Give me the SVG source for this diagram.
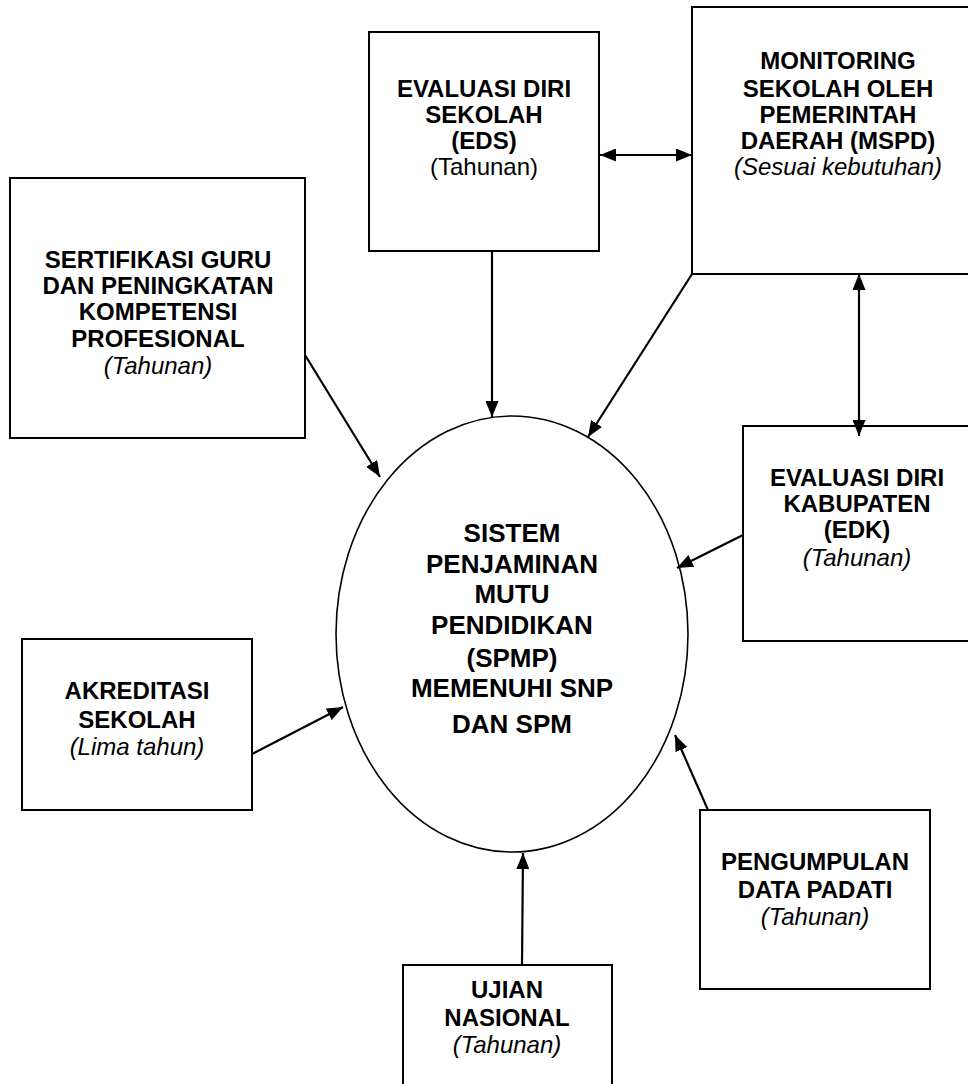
<svg xmlns="http://www.w3.org/2000/svg" width="968" height="1084" viewBox="0 0 968 1084">
<style>
.box{fill:#fff;stroke:#000;stroke-width:2}
.ell{fill:#fff;stroke:#000;stroke-width:1.6}
.t{font-family:"Liberation Sans",Arial,sans-serif;font-size:24px;font-weight:bold;fill:#000;text-anchor:middle}
.tc{font-family:"Liberation Sans",Arial,sans-serif;font-size:26px;font-weight:bold;fill:#000;text-anchor:middle}
.i{font-family:"Liberation Sans",Arial,sans-serif;font-size:24px;font-style:italic;fill:#000;text-anchor:middle}
.r{font-family:"Liberation Sans",Arial,sans-serif;font-size:24px;fill:#000;text-anchor:middle}
.c{fill:none;stroke:#000;stroke-width:2.2;marker-end:url(#ah)}
.d{fill:none;stroke:#000;stroke-width:2.2;marker-end:url(#ah);marker-start:url(#ah)}
</style>
<defs>
<marker id="ah" viewBox="0 0 16 13" refX="16" refY="6.5" markerWidth="16" markerHeight="13" markerUnits="userSpaceOnUse" orient="auto-start-reverse">
<path d="M0,0 L16,6.5 L0,13 z" fill="#000"/>
</marker>
</defs>
<rect width="968" height="1084" fill="#fff"/>
<g id="eds">
<rect class="box" x="369" y="32" width="230" height="219"/>
<text class="t" x="484" y="97">EVALUASI DIRI</text>
<text class="t" x="484" y="123">SEKOLAH</text>
<text class="t" x="484" y="149">(EDS)</text>
<text class="r" x="484" y="175">(Tahunan)</text>
</g>
<g id="mspd">
<rect class="box" x="692" y="7" width="292" height="267"/>
<text class="t" x="838" y="69">MONITORING</text>
<text class="t" x="838" y="97">SEKOLAH OLEH</text>
<text class="t" x="838" y="123">PEMERINTAH</text>
<text class="t" x="838" y="149">DAERAH (MSPD)</text>
<text class="i" x="838" y="175">(Sesuai kebutuhan)</text>
</g>
<g id="sertifikasi">
<rect class="box" x="10" y="178" width="295" height="260"/>
<text class="t" x="158" y="268">SERTIFIKASI GURU</text>
<text class="t" x="158" y="294">DAN PENINGKATAN</text>
<text class="t" x="158" y="320">KOMPETENSI</text>
<text class="t" x="158" y="347">PROFESIONAL</text>
<text class="i" x="158" y="374">(Tahunan)</text>
</g>
<g id="edk">
<rect class="box" x="743" y="426" width="240" height="215"/>
<text class="t" x="857" y="486">EVALUASI DIRI</text>
<text class="t" x="857" y="512">KABUPATEN</text>
<text class="t" x="857" y="538">(EDK)</text>
<text class="i" x="857" y="566">(Tahunan)</text>
</g>
<g id="akreditasi">
<rect class="box" x="22" y="639" width="230" height="171"/>
<text class="t" x="137" y="699">AKREDITASI</text>
<text class="t" x="137" y="728">SEKOLAH</text>
<text class="i" x="137" y="755">(Lima tahun)</text>
</g>
<g id="pengumpulan">
<rect class="box" x="700" y="810" width="230" height="179"/>
<text class="t" x="815" y="870">PENGUMPULAN</text>
<text class="t" x="815" y="898">DATA PADATI</text>
<text class="i" x="815" y="925">(Tahunan)</text>
</g>
<g id="ujian">
<rect class="box" x="403" y="965" width="209" height="140"/>
<text class="t" x="507" y="998">UJIAN</text>
<text class="t" x="507" y="1026">NASIONAL</text>
<text class="i" x="507" y="1053">(Tahunan)</text>
</g>
<g id="spmp">
<ellipse class="ell" cx="512" cy="634" rx="176" ry="218"/>
<text class="tc" x="512" y="542">SISTEM</text>
<text class="tc" x="512" y="573">PENJAMINAN</text>
<text class="tc" x="512" y="603">MUTU</text>
<text class="tc" x="512" y="634">PENDIDIKAN</text>
<text class="tc" x="512" y="667">(SPMP)</text>
<text class="tc" x="512" y="697">MEMENUHI SNP</text>
<text class="tc" x="512" y="733">DAN SPM</text>
</g>
<g id="connectors">
<line class="d" x1="600" y1="155" x2="692" y2="155"/>
<line class="d" x1="859" y1="274" x2="859" y2="436"/>
<line class="c" x1="492" y1="251" x2="492" y2="417"/>
<line class="c" x1="692" y1="274" x2="588" y2="437"/>
<line class="c" x1="305" y1="355" x2="380" y2="477"/>
<line class="c" x1="743" y1="535" x2="677" y2="568"/>
<line class="c" x1="252" y1="754" x2="343" y2="707"/>
<line class="c" x1="708" y1="810" x2="675" y2="735"/>
<line class="c" x1="522" y1="965" x2="523" y2="853"/>
</g>
</svg>
